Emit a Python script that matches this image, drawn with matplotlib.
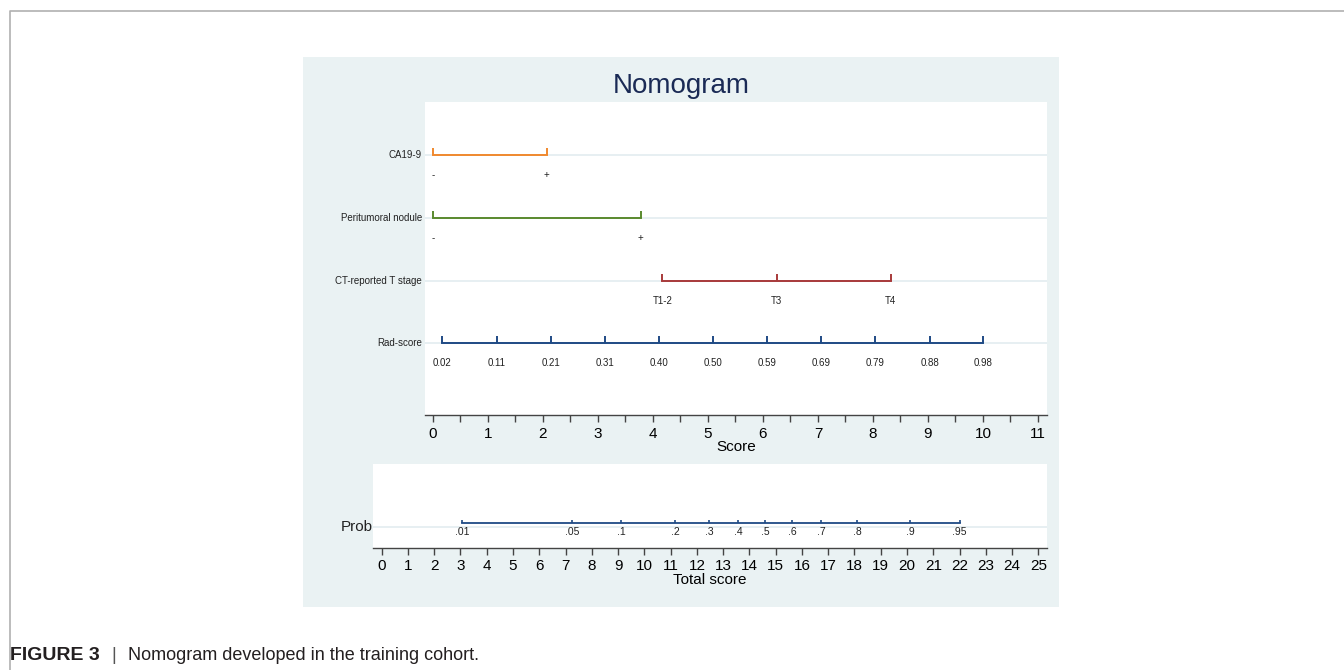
import matplotlib.pyplot as plt
from matplotlib.ticker import MultipleLocator

plt.rcParams['font.family'] = ['Liberation Sans', 'DejaVu Sans']

# points for each predictor level on the 0-11 score scale
ca199_labels = ['-', '+']
ca199_points = [0.0, 2.07]
nodule_labels = ['-', '+']
nodule_points = [0.0, 3.78]
tstage_labels = ['T1-2', 'T3', 'T4']
tstage_points = [4.17, 6.25, 8.32]
rad_labels = ['0.02', '0.11', '0.21', '0.31', '0.40', '0.50',
              '0.59', '0.69', '0.79', '0.88', '0.98']
rad_points = [0.17, 1.16, 2.14, 3.13, 4.11, 5.09, 6.08, 7.06, 8.04, 9.03, 10.0]

# probability scale on the total score axis
prob_labels = ['.01', '.05', '.1', '.2', '.3', '.4', '.5', '.6', '.7', '.8', '.9', '.95']
prob_points = [3.07, 7.24, 9.11, 11.18, 12.47, 13.56, 14.6, 15.62, 16.74, 18.1, 20.13, 22.0]

row_names = ['CA19-9', 'Peritumoral nodule', 'CT-reported T stage', 'Rad-score']
row_colors = ['#F0892E', '#5A8A2E', '#A83A3A', '#1F4A85']

W, H = 1344, 670
BG = '#EAF2F3'
GRID = '#E3ECF0'
NARROW = ['Liberation Sans Narrow', 'Liberation Sans']


def px_axes(fig, x0, y0, x1, y1, **kw):
    return fig.add_axes([x0 / W, 1 - y1 / H, (x1 - x0) / W, (y1 - y0) / H], **kw)


fig = plt.figure(figsize=(W / 100, H / 100), dpi=100)
fig.patch.set_facecolor('white')

# page frame and grey panel
frame = px_axes(fig, 0, 0, W, H)
frame.set_xlim(0, W)
frame.set_ylim(H, 0)
frame.axis('off')
frame.plot([9.5, 9.5, W], [H, 10.5, 10.5], color='#B0B0B0', lw=1.2)
frame.add_patch(plt.Rectangle((303, 57), 756, 550, color=BG, lw=0))
frame.text(681, 86, 'Nomogram', ha='center', va='center', fontsize=20, color='#1A2A55')
frame.text(10, 656, 'FIGURE 3', ha='left', va='center', fontsize=14,
           fontweight='bold', color='#231F20')
frame.text(114, 656, '|', ha='center', va='center', fontsize=13, color='#555555')
frame.text(128, 656, 'Nomogram developed in the training cohort.', ha='left',
           va='center', fontsize=13, color='#231F20')

# upper panel: points per predictor
ax = px_axes(fig, 425, 102, 1047, 415)
ax.set_xlim(-0.145, 11.164)
ax.set_ylim(415, 102)
ax.set_facecolor('white')
for s in ['top', 'right', 'left']:
    ax.spines[s].set_visible(False)
ax.spines['bottom'].set_color('#444444')
ax.spines['bottom'].set_linewidth(1.0)
ax.set_yticks([])
ax.xaxis.set_major_locator(MultipleLocator(1))
ax.xaxis.set_minor_locator(MultipleLocator(0.5))
ax.tick_params(axis='x', which='both', length=5, width=1.0, color='#444444',
               labelsize=11, pad=4)
ax.set_xlabel('Score', fontsize=11, labelpad=-1)

rows = [(ca199_labels, ca199_points), (nodule_labels, nodule_points),
        (tstage_labels, tstage_points), (rad_labels, rad_points)]
row_y = [155, 218, 281, 343]
for (labels, pts), y, name, col in zip(rows, row_y, row_names, row_colors):
    ax.axhline(y, color=GRID, lw=1.2, zorder=1)
    ax.plot([pts[0], pts[-1]], [y, y], color=col, lw=1.4, zorder=3)
    ax.vlines(pts, y - 7, y, color=col, lw=1.4, zorder=3)
    for lab, p in zip(labels, pts):
        ax.text(p, y + 20, lab, ha='center', va='center', fontsize=7,
                family=NARROW, color='#222222')
    ax.text(-0.2, y, name, ha='right', va='center', fontsize=7, color='#222222',
            clip_on=False)

# lower panel: total score to probability
bx = px_axes(fig, 373, 464, 1047, 548)
bx.set_xlim(-0.331, 25.33)
bx.set_ylim(548, 464)
bx.set_facecolor('white')
for s in ['top', 'right', 'left']:
    bx.spines[s].set_visible(False)
bx.spines['bottom'].set_color('#444444')
bx.spines['bottom'].set_linewidth(1.0)
bx.set_yticks([])
bx.xaxis.set_major_locator(MultipleLocator(1))
bx.tick_params(axis='x', length=5, width=1.0, color='#444444', labelsize=11, pad=3)
bx.set_xlabel('Total score', fontsize=11, labelpad=0)

bx.axhline(527, color=GRID, lw=1.2, zorder=1)
bx.plot([prob_points[0], prob_points[-1]], [523, 523], color='#1F4A85', lw=1.3, zorder=3)
bx.vlines(prob_points, 520, 523, color='#1F4A85', lw=1.2, zorder=3)
for lab, p in zip(prob_labels, prob_points):
    bx.text(p, 532, lab, ha='center', va='center', fontsize=7.5,
            family=NARROW, color='#222222')
bx.text(-0.35, 527, 'Prob', ha='right', va='center', fontsize=11, color='#222222',
        clip_on=False)

fig.savefig('out.png', dpi=100, facecolor=fig.get_facecolor())
